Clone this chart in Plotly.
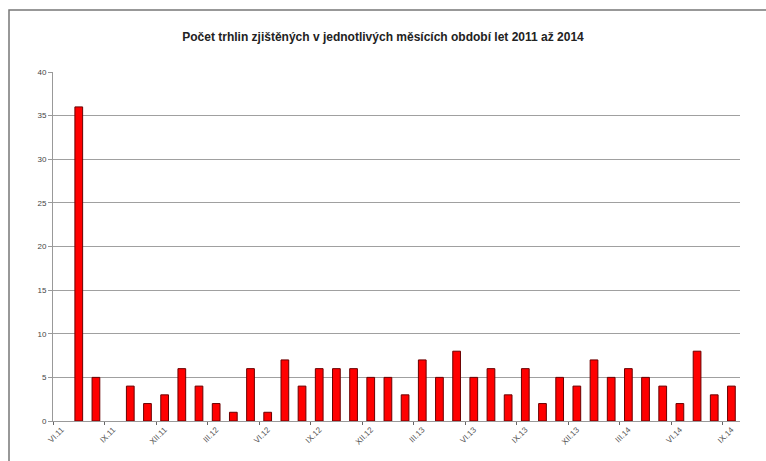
import plotly.graph_objects as go

months = [
    "VI.11", "VII.11", "VIII.11", "IX.11", "X.11", "XI.11", "XII.11",
    "I.12", "II.12", "III.12", "IV.12", "V.12", "VI.12", "VII.12", "VIII.12", "IX.12", "X.12", "XI.12", "XII.12",
    "I.13", "II.13", "III.13", "IV.13", "V.13", "VI.13", "VII.13", "VIII.13", "IX.13", "X.13", "XI.13", "XII.13",
    "I.14", "II.14", "III.14", "IV.14", "V.14", "VI.14", "VII.14", "VIII.14", "IX.14",
]
cracks = [0, 36, 5, 0, 4, 2, 3, 6, 4, 2, 1, 6, 1, 7, 4, 6, 6, 6, 5, 5,
          3, 7, 5, 8, 5, 6, 3, 6, 2, 5, 4, 7, 5, 6, 5, 4, 2, 8, 3, 4]
title_text = "Počet trhlin zjištěných v jednotlivých měsících období let 2011 až 2014"

W, H = 766, 461
L, R, T, B = 53, 26, 72, 40
pw, ph = W - L - R, H - T - B

pos = list(range(len(months)))
fig = go.Figure(go.Bar(
    x=pos, y=cracks, hovertext=months,
    marker=dict(color="#ff0000",
                line=dict(color="#6a0000", width=[1 if v > 0 else 0 for v in cracks])),
))

fig.update_layout(
    width=W, height=H,
    margin=dict(l=L, r=R, t=T, b=B, autoexpand=False),
    paper_bgcolor="white", plot_bgcolor="white",
    bargap=0.55,
    showlegend=False,
    font=dict(family="Liberation Sans, Arial, sans-serif", size=8, color="#444"),
    title=dict(text="<b>" + title_text + "</b>", x=(383 - L) / pw, xref="paper", xanchor="center",
               y=1 - 37 / H, yanchor="middle",
               font=dict(size=12, color="#222", family="Liberation Sans, Arial, sans-serif")),
    xaxis=dict(
        range=[-0.5, len(months) - 0.5],
        tickmode="array", tickvals=pos[::3], ticktext=months[::3],
        ticks="", tickangle=-45, automargin=False,
        showline=True, linecolor="#999", linewidth=1, showgrid=False, zeroline=False,
        tickfont=dict(size=8, color="#555"),
        minor=dict(tick0=-0.5, dtick=3, ticks="outside", ticklen=3,
                   tickcolor="#666", showgrid=False),
    ),
    yaxis=dict(
        range=[0, 40], dtick=5, showgrid=True, gridcolor="#a0a0a0", gridwidth=1,
        showline=True, linecolor="#999", linewidth=1, ticks="outside", ticklen=4,
        tickcolor="#999", zeroline=False, fixedrange=True,
        tickfont=dict(size=8, color="#444"),
    ),
)

# outer chart frame
x0 = (9 - L) / pw
x1 = (W + 5 - L) / pw
y1 = (H - B - 10) / ph
y0 = (H - B - (H + 5)) / ph
fig.add_shape(type="rect", xref="paper", yref="paper", x0=x0, x1=x1, y0=y0, y1=y1,
              line=dict(color="#777", width=1.5), fillcolor="rgba(0,0,0,0)", layer="below")

fig.write_html("out.html")
